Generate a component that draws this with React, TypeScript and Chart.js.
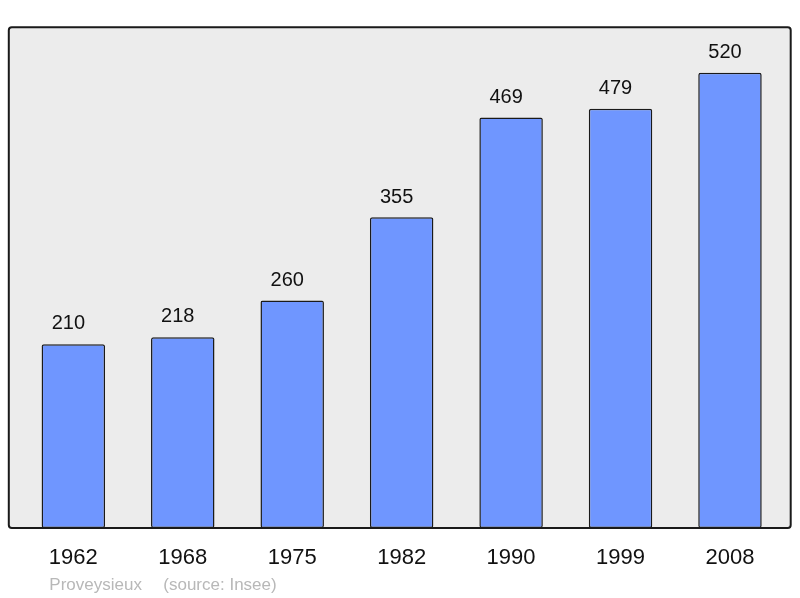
import React, { useEffect, useRef } from "react";
import { Chart, registerables } from "chart.js";

Chart.register(...registerables);

const years = ["1962", "1968", "1975", "1982", "1990", "1999", "2008"];
const population = [210, 218, 260, 355, 469, 479, 520];
const footerName = "Proveysieux";
const footerSource = "(source: Insee)";
const yMax = 572;

const FONT = "'Liberation Sans', Arial, sans-serif";

const framePlugin = {
  id: "frame",
  beforeDatasetsDraw(chart: any) {
    const { ctx, chartArea } = chart;
    const l = chartArea.left - 9.8;
    const r = chartArea.right + 6;
    const t = chartArea.top;
    const b = chartArea.bottom;
    ctx.save();
    ctx.beginPath();
    ctx.roundRect(l, t, r - l, b - t, 3);
    ctx.fillStyle = "#ececec";
    ctx.fill();
    ctx.restore();
  },
  afterDatasetsDraw(chart: any) {
    const { ctx, chartArea } = chart;
    const l = chartArea.left - 9.8;
    const r = chartArea.right + 6;
    const t = chartArea.top;
    const b = chartArea.bottom;
    ctx.save();
    ctx.beginPath();
    ctx.roundRect(l, t, r - l, b - t, 3);
    ctx.lineWidth = 2;
    ctx.strokeStyle = "#1a1a1a";
    ctx.stroke();

    const meta = chart.getDatasetMeta(0);
    const xScale = chart.scales.x;
    ctx.fillStyle = "#111";
    ctx.textAlign = "center";
    ctx.textBaseline = "alphabetic";
    meta.data.forEach((bar: any, i: number) => {
      ctx.font = `20px ${FONT}`;
      ctx.fillText(String(population[i]), bar.x - 5, bar.y - 14.7);
    });
    years.forEach((yr, i) => {
      ctx.font = `22px ${FONT}`;
      ctx.fillText(yr, xScale.getPixelForValue(i), b + 36);
    });
    ctx.textAlign = "left";
    ctx.fillStyle = "#b8b8b8";
    ctx.font = `17px ${FONT}`;
    ctx.fillText(footerName, 49.3, b + 61.5);
    ctx.fillText(footerSource, 163.3, b + 61.5);
    ctx.restore();
  },
};

export default function App() {
  const ref = useRef<HTMLCanvasElement>(null);
  useEffect(() => {
    if (!ref.current) return;
    const chart = new Chart(ref.current, {
      type: "bar",
      data: {
        labels: years,
        datasets: [
          {
            data: population,
            backgroundColor: "#6f96ff",
            borderColor: "#1a1a1a",
            borderWidth: 1.5,
            borderRadius: 2,
            borderSkipped: false,
            barPercentage: 0.58,
            categoryPercentage: 1,
          },
        ],
      },
      options: {
        animation: false,
        responsive: false,
        maintainAspectRatio: false,
        layout: { padding: { left: 18.6, right: 15.3, top: 27.3, bottom: 70 } },
        plugins: { legend: { display: false }, tooltip: { enabled: false } },
        scales: {
          x: { display: false },
          y: { display: false, min: 0, max: yMax },
        },
      },
      plugins: [framePlugin],
    });
    return () => chart.destroy();
  }, []);
  return (
    <div style={{ position: "fixed", left: 0, top: 0, width: 800, height: 598, background: "#fff" }}>
      <canvas ref={ref} width={800} height={598} style={{ width: 800, height: 598, display: "block" }} />
    </div>
  );
}
